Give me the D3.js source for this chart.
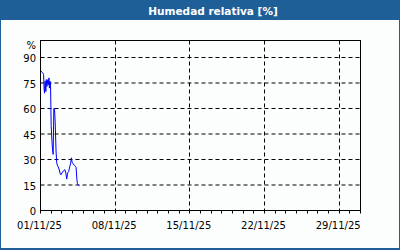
<!DOCTYPE html>
<html>
<head>
<meta charset="utf-8">
<script src="https://cdn.jsdelivr.net/npm/d3@7"></script>
<style>
  body { margin: 0; background: #fff; }
  svg { display: block; }
</style>
</head>
<body>
<script>
// chart values
var title = 'Humedad relativa [%]';
var unit = '%';
var hours = [1, 5, 7, 8, 9, 10.5, 12, 13, 14.5, 16.5, 18, 19, 20, 21.5, 22.5, 24, 25.5, 27, 28.5, 30, 31.5, 33, 35, 36.5, 39, 41, 44, 46, 48, 52, 55, 57, 59, 61, 63.5, 66, 68, 69.5, 71, 73.5, 76, 78.5, 80, 82, 83, 85, 87.5]; // hours since 01/11/25 00:00
var humidity = [82, 81, 80, 72, 69, 76, 70, 77, 73, 77, 74, 78, 72, 76, 75, 50, 42, 36, 33, 60, 60, 52, 35, 28, 26, 25, 22, 21, 22, 23.5, 24, 22, 18.5, 22, 23, 26, 28, 31, 28.5, 27.5, 26.5, 26, 25.5, 18, 16, 15, 14.5];
var yTicks = [0, 15, 30, 45, 60, 75, 90];
var xLabelDays = ['01/11/25', '08/11/25', '15/11/25', '22/11/25', '29/11/25'];

var W = 400, H = 250;
var left = 40.5, right = 360.5, top_ = 40.5, bottom = 210.5;
var fnt = 'DejaVu Sans, Verdana, sans-serif';

var start = new Date(Date.UTC(2025, 10, 1));
var end = new Date(Date.UTC(2025, 11, 1));
var parseDay = d3.utcParse('%d/%m/%y');

var x = d3.scaleUtc().domain([start, end]).range([left, right]);
var y = d3.scaleLinear().domain([0, 100]).range([bottom, top_]);

var svg = d3.select('body').append('svg').attr('width', W).attr('height', H);

// background + frame of the widget
svg.append('rect').attr('x', 0).attr('y', 0).attr('width', W).attr('height', H).attr('fill', '#1f5f98');
svg.append('rect').attr('x', 1).attr('y', 20).attr('width', W - 2).attr('height', H - 22).attr('fill', '#fbfefc');

svg.append('text').text(title)
  .attr('x', 213).attr('y', 14.5).attr('text-anchor', 'middle')
  .attr('fill', '#fff').attr('font-family', fnt).attr('font-weight', 'bold').attr('font-size', '10.5px');

// grid
var g = svg.append('g');
g.selectAll('.hgrid').data(yTicks.filter(d => d > 0)).enter().append('line')
  .attr('x1', left).attr('x2', right)
  .attr('y1', d => y(d)).attr('y2', d => y(d))
  .attr('stroke', '#000').attr('stroke-dasharray', '4,3');

var weekly = xLabelDays.map(parseDay);
g.selectAll('.vgrid').data(weekly.slice(1)).enter().append('line')
  .attr('x1', d => Math.round(x(d) - 0.5) + 0.5).attr('x2', d => Math.round(x(d) - 0.5) + 0.5)
  .attr('y1', top_).attr('y2', bottom)
  .attr('stroke', '#000').attr('stroke-dasharray', '4,3');

// daily ticks under the axis
var days = d3.utcDay.range(start, d3.utcDay.offset(end, 1));
g.selectAll('.tick').data(days).enter().append('line')
  .attr('x1', d => Math.round(x(d) - 0.5) + 0.5).attr('x2', d => Math.round(x(d) - 0.5) + 0.5)
  .attr('y1', bottom).attr('y2', bottom + 3)
  .attr('stroke', '#000');

// frame
g.append('rect').attr('x', left).attr('y', top_).attr('width', right - left).attr('height', bottom - top_)
  .attr('fill', 'none').attr('stroke', '#000');

// y labels
g.selectAll('.ylab').data(yTicks).enter().append('text')
  .text(d => d)
  .attr('x', 36).attr('y', d => y(d) + 1).attr('dy', '0.35em')
  .attr('text-anchor', 'end').attr('font-family', fnt).attr('font-size', '10px').attr('fill', '#000');
g.append('text').text(unit)
  .attr('x', 36).attr('y', 45.5).attr('dy', '0.35em')
  .attr('text-anchor', 'end').attr('font-family', fnt).attr('font-size', '10px').attr('fill', '#000');

// x labels
g.selectAll('.xlab').data(weekly).enter().append('text')
  .text((d, i) => xLabelDays[i])
  .attr('x', d => x(d) - 1).attr('y', 229)
  .attr('text-anchor', 'middle').attr('font-family', fnt).attr('font-size', '10px').attr('fill', '#000');

// series
var pts = hours.map((h, i) => [d3.utcMinute.offset(start, Math.round(h * 60)), humidity[i]]);
var line = d3.line().x(d => x(d[0])).y(d => y(d[1]));
g.append('path').datum(pts).attr('d', line)
  .attr('fill', 'none').attr('stroke', '#0000ff').attr('stroke-width', 1);
</script>
</body>
</html>
